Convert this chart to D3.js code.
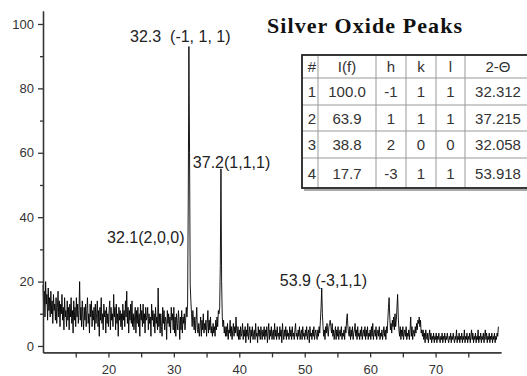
<!DOCTYPE html>
<html>
<head>
<meta charset="utf-8">
<style>
  body { margin: 0; background: #fff; }
  svg { display: block; font-family: Arial, 'Liberation Sans', sans-serif; }
  .axis text { fill: #333; font-size: 13px; }
  .axis path, .axis line { stroke: #333; stroke-width: 1.3; }
</style>
</head>
<body>
<svg width="527" height="376"></svg>
<script src="https://d3js.org/d3.v7.min.js"></script>
<script>
// scan: 2-theta from 10.0 in steps of 0.1, intensity
var scanStart = 10, scanStep = 0.1;
var intensity = [
  19, 12, 17, 9, 20, 13, 16, 8, 18, 11, 15, 9, 17, 10, 14, 7, 16, 11, 13, 8,
  15, 7, 12, 17, 9, 14, 6, 13, 10, 16, 8, 12, 5, 15, 9, 11, 6, 14, 8, 12,
  5, 13, 9, 15, 7, 11, 4, 14, 8, 12, 6, 15, 9, 13, 7, 11, 20, 8, 12, 6,
  14, 9, 5, 12, 8, 13, 6, 11, 15, 7, 10, 4, 13, 9, 14, 6, 11, 8, 12, 5,
  13, 7, 10, 14, 6, 11, 3, 12, 8, 15, 7, 10, 5, 13, 9, 11, 4, 12, 7, 10,
  6, 11, 14, 5, 12, 8, 10, 6, 16, 9, 12, 5, 13, 7, 10, 3, 12, 8, 11, 6,
  10, 5, 13, 8, 11, 6, 14, 9, 17, 7, 12, 4, 11, 8, 13, 7, 14, 6, 10, 5,
  9, 12, 4, 11, 7, 12, 6, 10, 3, 13, 8, 11, 6, 13, 7, 10, 4, 12, 8, 9,
  12, 5, 10, 7, 9, 3, 13, 8, 11, 6, 10, 4, 12, 7, 9, 5, 18, 6, 10, 4,
  10, 6, 3, 12, 7, 11, 5, 9, 8, 2, 11, 7, 10, 6, 9, 4, 12, 8, 10, 5,
  12, 4, 9, 3, 10, 7, 5, 11, 8, 2, 9, 5, 11, 4, 9, 7, 10, 5, 8, 12,
  9, 13, 45, 93, 60, 19, 14, 10, 6, 11, 8, 5, 9, 4, 8, 12, 5, 4, 7, 3,
  6, 9, 3, 8, 5, 10, 4, 7, 5, 8, 3, 7, 11, 4, 8, 5, 9, 4, 6, 3,
  7, 4, 6, 3, 8, 5, 9, 6, 11, 10, 12, 25, 55, 20, 9, 6, 8, 4, 6, 3,
  6, 3, 7, 2, 5, 4, 8, 3, 6, 2, 5, 7, 3, 6, 4, 9, 5, 3, 6, 2,
  5, 2, 6, 3, 4, 7, 2, 5, 3, 6, 1, 5, 3, 7, 2, 4, 6, 1, 5, 3,
  6, 2, 4, 5, 2, 7, 3, 4, 1, 6, 3, 5, 2, 6, 4, 2, 5, 3, 6, 2,
  5, 3, 6, 1, 4, 7, 2, 5, 3, 6, 2, 4, 5, 2, 7, 3, 5, 2, 6, 3,
  4, 2, 6, 3, 5, 1, 7, 4, 2, 5, 3, 6, 2, 5, 3, 4, 2, 6, 3, 5,
  2, 6, 3, 4, 2, 5, 7, 3, 4, 2, 5, 3, 6, 2, 4, 5, 2, 6, 3, 4,
  2, 5, 3, 6, 2, 4, 5, 1, 6, 3, 4, 2, 5, 3, 6, 2, 4, 5, 3, 2,
  5, 3, 6, 4, 8, 12, 18, 10, 6, 3, 5, 2, 6, 4, 7, 5, 3, 6, 7, 8,
  6, 4, 7, 3, 5, 2, 4, 6, 2, 5, 3, 6, 2, 4, 5, 3, 6, 2, 4, 3,
  5, 2, 6, 4, 8, 10, 6, 4, 3, 6, 2, 5, 3, 6, 2, 4, 5, 7, 3, 5,
  2, 6, 3, 4, 2, 5, 3, 6, 2, 4, 5, 3, 6, 2, 5, 3, 6, 2, 4, 3,
  5, 2, 6, 3, 7, 2, 4, 5, 3, 6, 2, 4, 5, 3, 6, 2, 4, 3, 5, 2,
  4, 6, 3, 5, 2, 6, 4, 8, 12, 15, 9, 5, 7, 4, 8, 6, 9, 5, 10, 6,
  8, 12, 16, 9, 5, 3, 6, 2, 5, 3, 6, 2, 4, 5, 3, 6, 2, 4, 3, 5,
  2, 5, 9, 3, 6, 2, 4, 5, 3, 6, 4, 7, 5, 8, 7, 9, 6, 8, 4, 5,
  3, 5, 2, 4, 1, 5, 3, 2, 4, 1, 3, 5, 2, 4, 1, 3, 2, 4, 1, 3,
  2, 4, 1, 3, 2, 4, 2, 1, 3, 2, 4, 1, 3, 2, 4, 1, 3, 2, 4, 2,
  1, 3, 2, 4, 1, 3, 2, 4, 2, 1, 3, 2, 5, 1, 3, 2, 4, 1, 3, 2,
  4, 1, 3, 2, 5, 1, 3, 2, 4, 1, 3, 2, 4, 1, 3, 5, 2, 4, 1, 3,
  2, 4, 1, 3, 2, 5, 1, 3, 2, 4, 1, 3, 2, 4, 1, 3, 5, 2, 4, 1,
  3, 2, 4, 1, 3, 2, 4, 1, 3, 2, 4, 1, 3, 2, 4, 3, 6
];

var yMajor = [0, 20, 40, 60, 80, 100];
var yMinor = [10, 30, 50, 70, 90];
var xMajor = [20, 30, 40, 50, 60, 70];
var xMinor = [15, 25, 35, 45, 55, 65, 75];

var peakLabels = [
  {text: "32.3  (-1, 1, 1)", x: 23.3, y: 94.5},
  {text: "37.2(1,1,1)", x: 32.9, y: 55.3},
  {text: "32.1(2,0,0)", x: 19.8, y: 32},
  {text: "53.9 (-3,1,1)", x: 46.2, y: 18.6}
];

var title = "Silver Oxide Peaks";
var tableHead = ["#", "I(f)", "h", "k", "l", "2-\u0398"];
var tableRows = [
  ["1", "100.0", "-1", "1", "1", "32.312"],
  ["2", "63.9", "1", "1", "1", "37.215"],
  ["3", "38.8", "2", "0", "0", "32.058"],
  ["4", "17.7", "-3", "1", "1", "53.918"]
];

var svg = d3.select("svg");

var x = d3.scaleLinear().domain([10, 80]).range([43, 501]);
var y = d3.scaleLinear().domain([-2, 104]).range([352.4, 11.1]);

var points = intensity.map(function(v, i) { return [scanStart + i * scanStep, v]; });

var line = d3.line()
  .x(function(d) { return x(d[0]); })
  .y(function(d) { return y(d[1]); });

svg.append("path")
  .datum(points)
  .attr("fill", "none")
  .attr("stroke", "#000")
  .attr("stroke-width", 0.9)
  .attr("d", line);

// axes
svg.append("g")
  .attr("class", "axis")
  .attr("transform", "translate(" + x(10) + ",0)")
  .call(d3.axisLeft(y).tickValues(yMajor).tickSize(5).tickSizeOuter(0).tickPadding(4));

svg.append("g")
  .attr("class", "axis")
  .attr("transform", "translate(" + x(10) + ",0)")
  .call(d3.axisLeft(y).tickValues(yMinor).tickSize(3).tickSizeOuter(0).tickFormat(""));

svg.append("g")
  .attr("class", "axis")
  .attr("transform", "translate(0," + y(-2) + ")")
  .call(d3.axisBottom(x).tickValues(xMajor).tickSize(5).tickSizeOuter(0).tickPadding(7));

svg.append("g")
  .attr("class", "axis")
  .attr("transform", "translate(0," + y(-2) + ")")
  .call(d3.axisBottom(x).tickValues(xMinor).tickSize(5).tickSizeOuter(0).tickFormat(""));

// peak labels
svg.selectAll(".plabel")
  .data(peakLabels)
  .enter().append("text")
  .attr("class", "plabel")
  .attr("x", function(d) { return x(d.x); })
  .attr("y", function(d) { return y(d.y); })
  .attr("font-size", "16px")
  .attr("fill", "#222")
  .style("white-space", "pre")
  .text(function(d) { return d.text; });

// title
svg.append("text")
  .attr("x", 267)
  .attr("y", 33)
  .attr("font-family", "'Liberation Serif', 'Times New Roman', serif")
  .attr("font-weight", "bold")
  .attr("font-size", "22px")
  .attr("textLength", 195)
  .attr("fill", "#111")
  .text(title);

// table
var colEdges = [302, 318, 376, 406, 436, 465, 531];
var rowEdges = [55, 78, 105, 131, 158, 188];
var table = svg.append("g");

table.selectAll(".vline")
  .data(colEdges.slice(1, -1))
  .enter().append("line")
  .attr("x1", function(d) { return d; })
  .attr("x2", function(d) { return d; })
  .attr("y1", rowEdges[0])
  .attr("y2", rowEdges[rowEdges.length - 1])
  .attr("stroke", "#999")
  .attr("stroke-width", 1);

table.selectAll(".hline")
  .data(rowEdges.slice(1, -1))
  .enter().append("line")
  .attr("x1", colEdges[0])
  .attr("x2", colEdges[colEdges.length - 1])
  .attr("y1", function(d) { return d; })
  .attr("y2", function(d) { return d; })
  .attr("stroke", "#999")
  .attr("stroke-width", 1);

table.append("rect")
  .attr("x", colEdges[0])
  .attr("y", rowEdges[0])
  .attr("width", colEdges[colEdges.length - 1] - colEdges[0])
  .attr("height", rowEdges[rowEdges.length - 1] - rowEdges[0])
  .attr("fill", "none")
  .attr("stroke", "#222")
  .attr("stroke-width", 1.8);

table.append("line")
  .attr("x1", colEdges[0] + 2).attr("x2", colEdges[colEdges.length - 1])
  .attr("y1", rowEdges[rowEdges.length - 1] + 2).attr("y2", rowEdges[rowEdges.length - 1] + 2)
  .attr("stroke", "#555").attr("stroke-width", 1.2);

var allRows = [tableHead].concat(tableRows);
allRows.forEach(function(row, r) {
  var top = rowEdges[r], bottom = rowEdges[r + 1];
  row.forEach(function(cell, c) {
    var left = colEdges[c], right = colEdges[c + 1];
    var first = c === 0;
    table.append("text")
      .attr("x", first ? right - 2 : (left + right) / 2)
      .attr("y", (top + bottom) / 2 + 5.5)
      .attr("text-anchor", first ? "end" : "middle")
      .attr("font-size", "15px")
      .attr("fill", "#333")
      .text(cell);
  });
});
</script>
</body>
</html>
